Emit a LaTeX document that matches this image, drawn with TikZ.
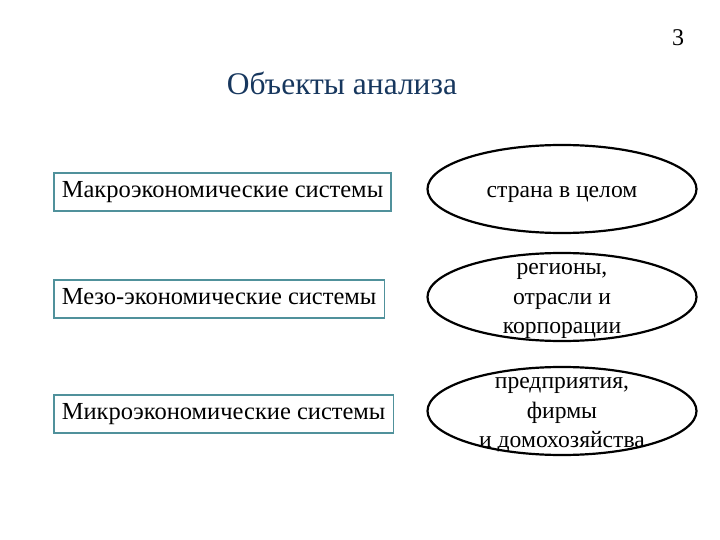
\documentclass[tikz,border=0pt]{standalone}
\usepackage{fontspec}
\setmainfont{Liberation Serif}
\usetikzlibrary{shapes.geometric}

\definecolor{titleblue}{RGB}{23,55,94}
\definecolor{boxteal}{RGB}{80,145,155}

\tikzset{
  level/.style={draw=boxteal, line width=1.6pt, anchor=west, text height=16pt, text depth=6pt,
    inner ysep=8pt, inner xsep=8pt, font=\fontsize{24.5}{28}\selectfont},
  oval/.style={draw, ellipse, line width=2.2pt, minimum width=269pt, minimum height=88pt, inner sep=0pt},
  ovaltext/.style={align=center, font=\fontsize{23.6}{29.3}\selectfont},
}

\begin{document}
\begin{tikzpicture}[x=1pt, y=-1pt]
  \useasboundingbox (0,0) rectangle (720,540);

  % title and page number
  \node[text=titleblue, font=\fontsize{31.5}{36}\selectfont] (title) at (342,83) {Объекты анализа};
  \node[font=\fontsize{24}{28}\selectfont] (page) at (678,38) {3};

  % levels of the economy
  \foreach \t/\y [count=\n] in {
      Макроэкономические системы/192,
      Мезо-экономические системы/299,
      Микроэкономические системы/414} {
    \node[level] (lvl\n) at (53,\y) {\t};
  }

  % objects
  \node[oval] (obj1) at (562,189) {};
  \node[ovaltext] (txt1) at (562,194) {страна в целом};
  \node[oval] (obj2) at (562,297) {};
  \node[ovaltext] (txt2) at (562,301) {регионы,\\отрасли и\\корпорации};
  \node[oval] (obj3) at (562,411) {};
  \node[ovaltext] (txt3) at (562,415) {предприятия,\\фирмы\\и домохозяйства};
\end{tikzpicture}
\end{document}
